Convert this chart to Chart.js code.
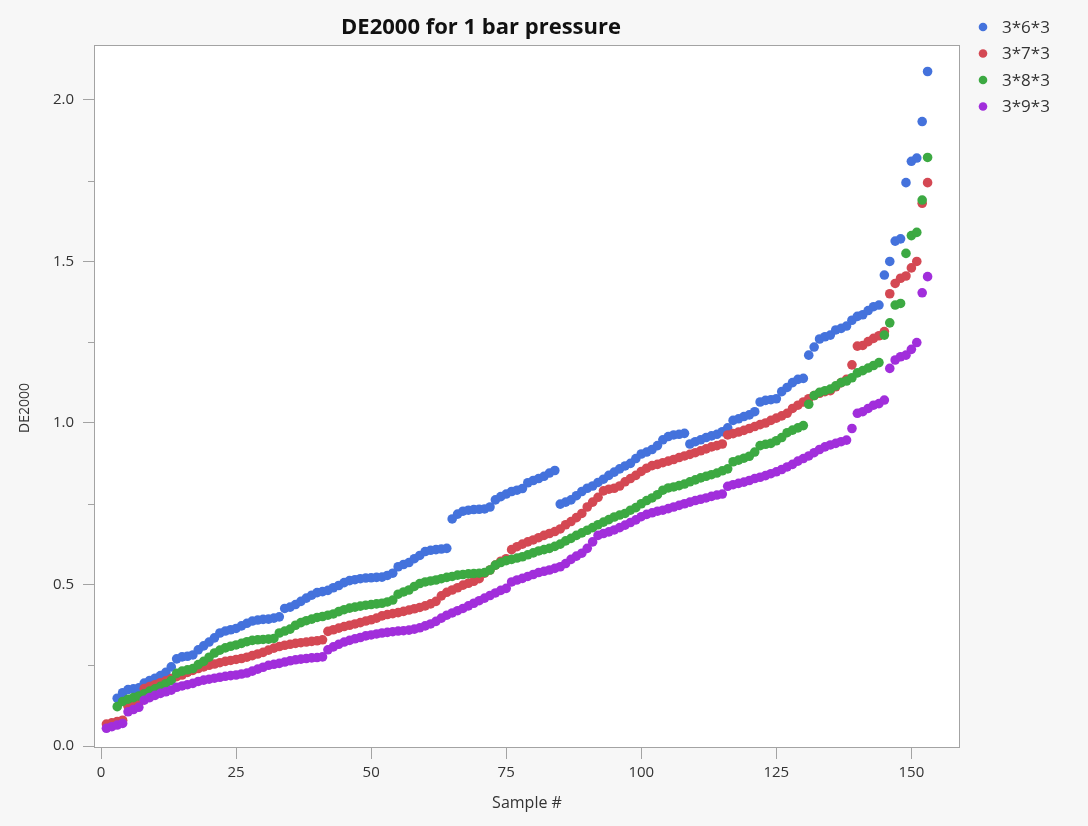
<!DOCTYPE html>
<html>
<head>
<meta charset="utf-8">
<script src="https://cdn.jsdelivr.net/npm/chart.js@4.4.1/dist/chart.umd.min.js"></script>
<style>
  html, body { margin: 0; padding: 0; background: #f7f7f7; }
  canvas { display: block; }
</style>
</head>
<body>
<canvas id="chart" width="1088" height="826"></canvas>
<script>
// Series names and colours
const seriesNames = ['3*6*3', '3*7*3', '3*8*3', '3*9*3'];
const seriesColors = ['#4472dc', '#d44853', '#3ca942', '#a12edb'];

// DE2000 per sample (sample # = index + 1)
const de363 = [
  null, null,
  0.148, 0.165, 0.175, 0.177, 0.180, 0.195, 0.203, 0.210, 0.218, 0.228,
  0.245, 0.270, 0.276, 0.278, 0.282, 0.298, 0.310, 0.322, 0.335, 0.350,
  0.356, 0.360, 0.364, 0.372, 0.380, 0.387, 0.390, 0.392, 0.393, 0.396,
  0.400, 0.426, 0.430, 0.438, 0.448, 0.458, 0.467, 0.475, 0.478, 0.482,
  0.490, 0.497, 0.506, 0.512, 0.515, 0.518, 0.520, 0.521, 0.522, 0.523,
  0.528, 0.535, 0.555, 0.562, 0.568, 0.580, 0.590, 0.602, 0.606, 0.608,
  0.610, 0.612, 0.703, 0.718, 0.727, 0.730, 0.732, 0.733, 0.734, 0.740,
  0.762, 0.772, 0.780, 0.788, 0.792, 0.797, 0.815, 0.822, 0.828, 0.835,
  0.845, 0.853, 0.749, 0.755, 0.762, 0.775, 0.788, 0.798, 0.805, 0.816,
  0.826, 0.838, 0.848, 0.858, 0.867, 0.875, 0.890, 0.904, 0.910, 0.918,
  0.930, 0.948, 0.958, 0.963, 0.965, 0.968, 0.935, 0.942, 0.948, 0.955,
  0.960, 0.965, 0.973, 0.985, 1.008, 1.013, 1.020, 1.025, 1.035, 1.065,
  1.070, 1.072, 1.075, 1.097, 1.110, 1.125, 1.135, 1.138, 1.210, 1.235,
  1.260, 1.267, 1.272, 1.288, 1.293, 1.300, 1.318, 1.330, 1.335, 1.348,
  1.360, 1.365, 1.458, 1.500, 1.563, 1.570, 1.744, 1.810, 1.820, 1.933,
  2.088
];
const de373 = [
  0.068, 0.072, 0.076, 0.080, 0.123, 0.128, 0.133, 0.178, 0.184, 0.190,
  0.196, 0.202, 0.209, 0.215, 0.220, 0.228, 0.234, 0.240, 0.245, 0.250,
  0.254, 0.258, 0.262, 0.265, 0.268, 0.271, 0.275, 0.280, 0.285, 0.290,
  0.297, 0.303, 0.308, 0.312, 0.315, 0.318, 0.320, 0.322, 0.324, 0.326,
  0.329, 0.355, 0.360, 0.365, 0.370, 0.374, 0.378, 0.382, 0.387, 0.391,
  0.396, 0.403, 0.407, 0.410, 0.413, 0.417, 0.421, 0.425, 0.429, 0.434,
  0.440, 0.448, 0.465, 0.476, 0.483, 0.490, 0.498, 0.504, 0.510, 0.518,
  0.535, 0.545, 0.560, 0.572, 0.580, 0.608, 0.617, 0.625, 0.632, 0.638,
  0.645, 0.652, 0.658, 0.664, 0.672, 0.685, 0.695, 0.707, 0.720, 0.740,
  0.755, 0.770, 0.790, 0.795, 0.798, 0.805, 0.818, 0.828, 0.838, 0.850,
  0.860, 0.868, 0.872, 0.877, 0.882, 0.887, 0.893, 0.898, 0.903, 0.908,
  0.914, 0.920, 0.926, 0.930, 0.935, 0.963, 0.967, 0.972, 0.977, 0.983,
  0.989, 0.995, 1.000, 1.008, 1.015, 1.022, 1.030, 1.045, 1.055, 1.065,
  1.075, 1.085, 1.092, 1.097, 1.100, 1.112, 1.125, 1.135, 1.180, 1.238,
  1.240, 1.252, 1.262, 1.270, 1.283, 1.400, 1.432, 1.448, 1.455, 1.480,
  1.500, 1.680, 1.744
];
const de383 = [
  null, null,
  0.122, 0.138, 0.145, 0.150, 0.155, 0.162, 0.170, 0.177, 0.185, 0.193,
  0.203, 0.225, 0.232, 0.236, 0.240, 0.252, 0.262, 0.275, 0.288, 0.297,
  0.304, 0.309, 0.313, 0.318, 0.323, 0.327, 0.329, 0.330, 0.331, 0.333,
  0.350, 0.356, 0.362, 0.374, 0.382, 0.388, 0.393, 0.398, 0.401, 0.405,
  0.409, 0.416, 0.422, 0.427, 0.430, 0.433, 0.436, 0.438, 0.440, 0.442,
  0.446, 0.452, 0.470, 0.477, 0.483, 0.494, 0.503, 0.508, 0.511, 0.514,
  0.518, 0.522, 0.525, 0.529, 0.531, 0.533, 0.534, 0.535, 0.537, 0.545,
  0.560, 0.568, 0.574, 0.578, 0.582, 0.586, 0.592, 0.598, 0.604, 0.608,
  0.612, 0.618, 0.625, 0.635, 0.643, 0.652, 0.660, 0.668, 0.676, 0.685,
  0.693, 0.701, 0.709, 0.715, 0.720, 0.730, 0.738, 0.750, 0.760, 0.768,
  0.778, 0.792, 0.799, 0.802, 0.806, 0.811, 0.818, 0.824, 0.830, 0.835,
  0.840, 0.845, 0.852, 0.858, 0.880, 0.885, 0.891, 0.897, 0.910, 0.930,
  0.934, 0.937, 0.945, 0.955, 0.970, 0.978, 0.985, 0.992, 1.058, 1.085,
  1.095, 1.100, 1.105, 1.115, 1.125, 1.130, 1.140, 1.155, 1.162, 1.170,
  1.178, 1.187, 1.272, 1.310, 1.365, 1.370, 1.525, 1.580, 1.590, 1.690,
  1.822
];
const de393 = [
  0.055, 0.060, 0.065, 0.070, 0.106, 0.113, 0.120, 0.142, 0.150, 0.157,
  0.163, 0.168, 0.173, 0.182, 0.186, 0.190, 0.194, 0.200, 0.204, 0.207,
  0.210, 0.213, 0.216, 0.218, 0.220, 0.223, 0.226, 0.232, 0.238, 0.244,
  0.250, 0.253, 0.256, 0.260, 0.264, 0.267, 0.269, 0.271, 0.273, 0.274,
  0.276, 0.298, 0.307, 0.315, 0.322, 0.327, 0.332, 0.336, 0.341, 0.344,
  0.347, 0.350, 0.352, 0.354, 0.356, 0.357, 0.359, 0.362, 0.366, 0.372,
  0.378, 0.386, 0.396, 0.405, 0.412, 0.419, 0.426, 0.434, 0.442, 0.450,
  0.458, 0.466, 0.474, 0.482, 0.488, 0.508, 0.514, 0.519, 0.525, 0.531,
  0.537, 0.541, 0.545, 0.550, 0.555, 0.565, 0.578, 0.588, 0.597, 0.612,
  0.632, 0.652, 0.658, 0.663, 0.669, 0.676, 0.684, 0.692, 0.700, 0.710,
  0.717, 0.722, 0.727, 0.730, 0.735, 0.740, 0.745, 0.750, 0.755, 0.760,
  0.764, 0.768, 0.773, 0.777, 0.780, 0.804, 0.809, 0.813, 0.817, 0.822,
  0.828, 0.832, 0.837, 0.843, 0.849, 0.856, 0.864, 0.872, 0.882, 0.890,
  0.898, 0.908, 0.918, 0.926, 0.932, 0.937, 0.942, 0.947, 0.983, 1.030,
  1.035, 1.045, 1.055, 1.060, 1.071, 1.169, 1.195, 1.205, 1.210, 1.228,
  1.249, 1.403, 1.453
];

// Axis ticks
const xTicks = [0, 25, 50, 75, 100, 125, 150];
const yTicks = [0, 0.5, 1.0, 1.5, 2.0];
const yMinorTicks = [0.25, 0.75, 1.25, 1.75];

const titleText = 'DE2000 for 1 bar pressure';
const xTitle = 'Sample #';
const yTitle = 'DE2000';

const FONT = "'Open Sans', 'Noto Sans', sans-serif";
const TEXT = '#333333';
const FRAME = '#a3a3a3';

function toPoints(values) {
  const pts = [];
  values.forEach((v, i) => { if (v !== null) pts.push({ x: i + 1, y: v }); });
  return pts;
}

const allSeries = [de363, de373, de383, de393];
const datasets = allSeries.map((vals, i) => ({
  label: seriesNames[i],
  data: toPoints(vals),
  backgroundColor: seriesColors[i],
  pointBackgroundColor: seriesColors[i],
  pointBorderWidth: 0,
  pointRadius: 4.8,
  pointHoverRadius: 4.8,
  showLine: false,
  order: allSeries.length - i
}));

// White plot panel behind the points, frame, minor ticks, titles and legend
const decorations = {
  id: 'decorations',
  beforeDatasetsDraw(chart) {
    const { ctx, chartArea: a } = chart;
    ctx.save();
    ctx.fillStyle = '#ffffff';
    ctx.fillRect(a.left, a.top, a.right - a.left, a.bottom - a.top);
    ctx.restore();
  },
  afterDraw(chart) {
    const { ctx, chartArea: a, scales } = chart;
    ctx.save();
    // frame
    ctx.strokeStyle = FRAME;
    ctx.lineWidth = 1;
    ctx.strokeRect(a.left + 0.5, a.top + 0.5, a.right - a.left - 1, a.bottom - a.top - 1);
    // minor ticks on the y axis
    ctx.beginPath();
    yMinorTicks.forEach(v => {
      const y = Math.round(scales.y.getPixelForValue(v)) + 0.5;
      ctx.moveTo(a.left - 6, y);
      ctx.lineTo(a.left, y);
    });
    ctx.stroke();
    // chart title
    ctx.fillStyle = '#111111';
    ctx.font = "bold 22px " + FONT;
    ctx.textAlign = 'center';
    ctx.textBaseline = 'middle';
    ctx.fillText(titleText, 481, 28);
    // y axis title
    ctx.save();
    ctx.translate(25, 408);
    ctx.rotate(-Math.PI / 2);
    ctx.fillStyle = TEXT;
    ctx.font = "14px " + FONT;
    ctx.fillText(yTitle, 0, 0);
    ctx.restore();
    // legend
    ctx.font = "17px " + FONT;
    ctx.textAlign = 'left';
    chart.data.datasets.forEach((ds, i) => {
      const y = 27 + i * 26.5;
      ctx.fillStyle = ds.backgroundColor;
      ctx.beginPath();
      ctx.arc(983, y, 4.3, 0, Math.PI * 2);
      ctx.fill();
      ctx.fillStyle = TEXT;
      ctx.fillText(ds.label, 1002, y + 1);
    });
    ctx.restore();
  }
};

new Chart(document.getElementById('chart'), {
  type: 'scatter',
  data: { datasets },
  plugins: [decorations],
  options: {
    responsive: false,
    animation: false,
    events: [],
    layout: { padding: { left: 0, right: 128, top: 45, bottom: 0 } },
    plugins: {
      legend: { display: false },
      tooltip: { enabled: false },
      title: { display: false }
    },
    scales: {
      x: {
        type: 'linear',
        min: -1.3,
        max: 159,
        afterBuildTicks: s => { s.ticks = xTicks.map(v => ({ value: v })); },
        afterFit: s => { s.height = 78; },
        border: { display: false },
        grid: { drawOnChartArea: false, drawTicks: true, tickLength: 11, tickColor: FRAME, tickWidth: 1 },
        ticks: {
          autoSkip: false, maxRotation: 0, padding: 5, color: TEXT,
          font: { family: FONT, size: 15 },
          callback: v => String(v)
        },
        title: {
          display: true, text: xTitle, color: TEXT,
          font: { family: FONT, size: 16 },
          padding: { top: 0, bottom: 13 }
        }
      },
      y: {
        type: 'linear',
        min: -0.006,
        max: 2.17,
        afterBuildTicks: s => { s.ticks = yTicks.map(v => ({ value: v })); },
        afterFit: s => { s.width = 94; },
        border: { display: false },
        grid: { drawOnChartArea: false, drawTicks: true, tickLength: 11, tickColor: FRAME, tickWidth: 1 },
        ticks: {
          autoSkip: false, padding: 9, color: TEXT,
          font: { family: FONT, size: 15 },
          callback: v => v.toFixed(1)
        },
        title: { display: false }
      }
    }
  }
});
</script>
</body>
</html>
